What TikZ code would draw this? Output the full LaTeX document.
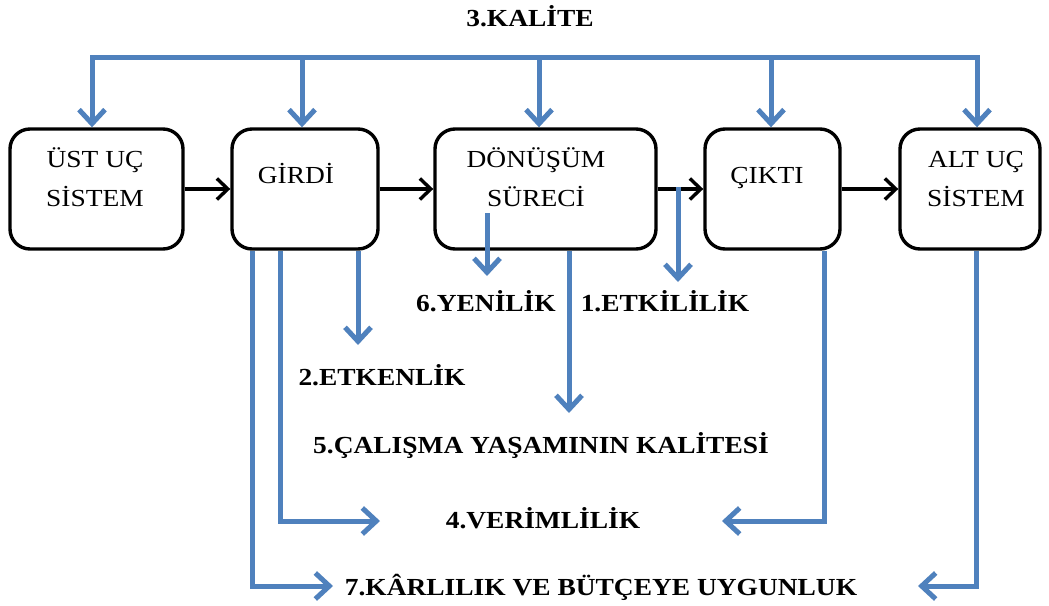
\documentclass[tikz,border=0pt]{standalone}
\usepackage{fontspec}
\setmainfont[FakeStretch=1.12]{Liberation Serif}
\usetikzlibrary{arrows.meta}
\definecolor{bl}{HTML}{4F81BD}
\begin{document}
\begin{tikzpicture}[x=1pt,y=-1pt,
  box/.style={draw=black, line width=3.4pt, rounded corners=20pt, minimum height=120pt, inner sep=0pt},
  bxt/.style={font=\fontsize{24.5}{39}\selectfont, align=center, anchor=base, inner sep=0pt},
  lbl/.style={font=\bfseries\fontsize{24.5}{28}\selectfont, inner sep=0pt, anchor=base},
  blk/.style={draw=black, line width=3.4pt, -{Straight Barb[length=11pt,width=21pt,line width=3.4pt]}},
  blu/.style={draw=bl, line width=5pt, -{Straight Barb[length=14pt,width=26pt,line width=5pt]}},
  bluu/.style={draw=bl, line width=5pt, {Straight Barb[length=14pt,width=26pt,line width=5pt]}-{Straight Barb[length=14pt,width=26pt,line width=5pt]}}
]
\useasboundingbox[fill=white] (0,0) rectangle (1049,605);

% boxes
\node[box, minimum width=173pt] (b1) at (96.5,189) {};
\node[box, minimum width=146pt] (b2) at (305,189) {};
\node[box, minimum width=221pt] (b3) at (545.5,189) {};
\node[box, minimum width=135pt] (b4) at (772.5,189) {};
\node[box, minimum width=140pt] (b5) at (970,189) {};

% box texts
\node[bxt] (t1) at (95,206) {ÜST UÇ\\SİSTEM};
\node[bxt] (t2) at (296,183) {GİRDİ};
\node[bxt] (t3) at (536,206) {DÖNÜŞÜM\\SÜRECİ};
\node[bxt] (t4) at (767,183) {ÇIKTI};
\node[bxt] (t5) at (976,206) {ALT UÇ\\SİSTEM};

% labels
\node[lbl] (kal) at (530,26) {3.KALİTE};
\node[lbl] (yen) at (486,311) {6.YENİLİK};
\node[lbl] (etki) at (665,311) {1.ETKİLİLİK};
\node[lbl] (etke) at (382,385) {2.ETKENLİK};
\node[lbl] (cal) at (541,453) {5.ÇALIŞMA YAŞAMININ KALİTESİ};
\node[lbl] (ver) at (543,528) {4.VERİMLİLİK};
\node[lbl] (kar) at (601,595) {7.KÂRLILIK VE BÜTÇEYE UYGUNLUK};

% black flow arrows
\draw[blk] (b1.east) -- (b2.west);
\draw[blk] (b2.east) -- (b3.west);
\draw[blk] (b3.east) -- (b4.west);
\draw[blk] (b4.east) -- (b5.west);

% top quality bus
\coordinate (tl) at (92,57);
\coordinate (tr) at (977,57);
\coordinate (q2) at (302,57);
\coordinate (q3) at (539,57);
\coordinate (q4) at (771,57);
\draw[bluu] (tl |- b1.north) -- (tl) -- (tr) -- (tr |- b5.north);
\draw[blu] (q2) -- (q2 |- b2.north);
\draw[blu] (q3) -- (q3 |- b3.north);
\draw[blu] (q4) -- (q4 |- b4.north);

% downward outcomes
\coordinate (e2) at (358,345);
\draw[blu] (e2 |- b2.south) -- (e2);

\coordinate (v1) at (280,521);
\coordinate (v1e) at (380,521);
\draw[blu] (v1 |- b2.south) -- (v1) -- (v1e);

\coordinate (k1) at (252,586);
\coordinate (k1e) at (333,586);
\draw[blu] (k1 |- b2.south) -- (k1) -- (k1e);

\coordinate (y0) at (487,213);
\coordinate (y1) at (487,276);
\draw[blu] (y0) -- (y1);

\coordinate (c1) at (569,413);
\draw[blu] (c1 |- b3.south) -- (c1);

\coordinate (f0) at (678,187);
\coordinate (f1) at (678,282);
\draw[blu] (f0) -- (f1);

\coordinate (v2) at (824,521);
\coordinate (v2e) at (722,521);
\draw[blu] (v2 |- b4.south) -- (v2) -- (v2e);

\coordinate (k2) at (976,586);
\coordinate (k2e) at (918,586);
\draw[blu] (k2 |- b5.south) -- (k2) -- (k2e);
\end{tikzpicture}
\end{document}
